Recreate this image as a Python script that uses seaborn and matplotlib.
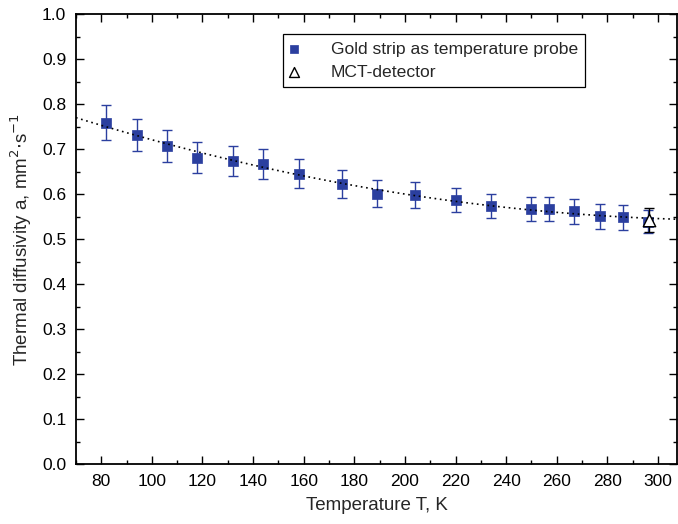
import numpy as np
import pandas as pd
import matplotlib
matplotlib.use("Agg")
import matplotlib.pyplot as plt
import seaborn as sns
from matplotlib.ticker import MultipleLocator

# Data
gold_T = [82, 94, 106, 118, 132, 144, 158, 175, 189, 204, 220, 234, 250, 257, 267, 277, 286, 296]
gold_a = [0.759, 0.731, 0.707, 0.681, 0.674, 0.667, 0.645, 0.623, 0.601, 0.598, 0.587, 0.574,
          0.567, 0.567, 0.562, 0.551, 0.548, 0.539]
gold_err = [0.038, 0.036, 0.035, 0.034, 0.033, 0.033, 0.032, 0.031, 0.030, 0.029, 0.027, 0.027,
            0.027, 0.027, 0.028, 0.028, 0.027, 0.025]
mct_T = [296.5]
mct_a = [0.542]
mct_err = [0.027]

blue = "#2b3f9f"

sns.set_theme(style="ticks")
plt.rcParams['font.family'] = ['Liberation Sans', 'DejaVu Sans']

fig = plt.figure(figsize=(6.78, 5.24), dpi=100)
ax = fig.add_axes([0.112, 0.1145, 0.8865, 0.8585])

ax.set_xlim(70, 307.5)
ax.set_ylim(0.0, 1.0)

gold = pd.DataFrame({"T": gold_T, "a": gold_a})
mct = pd.DataFrame({"T": mct_T, "a": mct_a})

# fit line (quadratic trend through gold-strip points)
sns.regplot(data=gold, x="T", y="a", order=2, ci=None, scatter=False, truncate=False, ax=ax,
            line_kws=dict(color="black", ls=(0, (1, 2.2)), lw=1.2, zorder=4))

ax.errorbar(gold_T, gold_a, yerr=gold_err, fmt="none", ecolor=blue, elinewidth=1.0,
            capsize=3.8, capthick=1.0, zorder=2)
sns.scatterplot(data=gold, x="T", y="a", marker="s", s=55, color=blue, edgecolor=blue,
                linewidth=0.5, ax=ax, zorder=3, label="Gold strip as temperature probe")

ax.errorbar(mct_T, mct_a, yerr=mct_err, fmt="none", ecolor="black", elinewidth=1.0,
            capsize=3.8, capthick=1.0, zorder=5)
sns.scatterplot(data=mct, x="T", y="a", marker="^", s=80, color="white", edgecolor="black",
                linewidth=1.0, ax=ax, zorder=6, label="MCT-detector")

ax.set_xlim(70, 307.5)
ax.set_ylim(0.0, 1.0)

ax.xaxis.set_major_locator(MultipleLocator(20))
ax.xaxis.set_minor_locator(MultipleLocator(10))
ax.yaxis.set_major_locator(MultipleLocator(0.1))
ax.yaxis.set_minor_locator(MultipleLocator(0.05))
ax.xaxis.set_major_formatter(matplotlib.ticker.FuncFormatter(lambda v, p: f"{v:.0f}"))
ax.yaxis.set_major_formatter(matplotlib.ticker.FuncFormatter(lambda v, p: f"{v:.1f}"))
ax.set_xticks([t for t in range(80, 301, 20)])

ax.tick_params(which="both", direction="in", top=True, right=True, colors="black",
               labelsize=12.5, width=1.0)
ax.tick_params(which="major", length=6, pad=7)
ax.tick_params(which="minor", length=3)
for s in ax.spines.values():
    s.set_linewidth(1.3)
    s.set_color("black")

ax.set_xlabel("Temperature T, K", fontsize=13.5, labelpad=6)
ax.set_ylabel("Thermal diffusivity a, mm$^2$$\\cdot$s$^{-1}$", fontsize=13.5, labelpad=6)

leg = ax.legend(loc="upper left", bbox_to_anchor=(0.344, 0.955), borderaxespad=0,
                fontsize=12.6, frameon=True, fancybox=False, edgecolor="black", framealpha=1,
                borderpad=0.4, handletextpad=1.9, labelspacing=0.45, handlelength=0.45,
                markerscale=0.8)
leg.get_frame().set_linewidth(0.9)

fig.savefig("out.png", dpi=100)
